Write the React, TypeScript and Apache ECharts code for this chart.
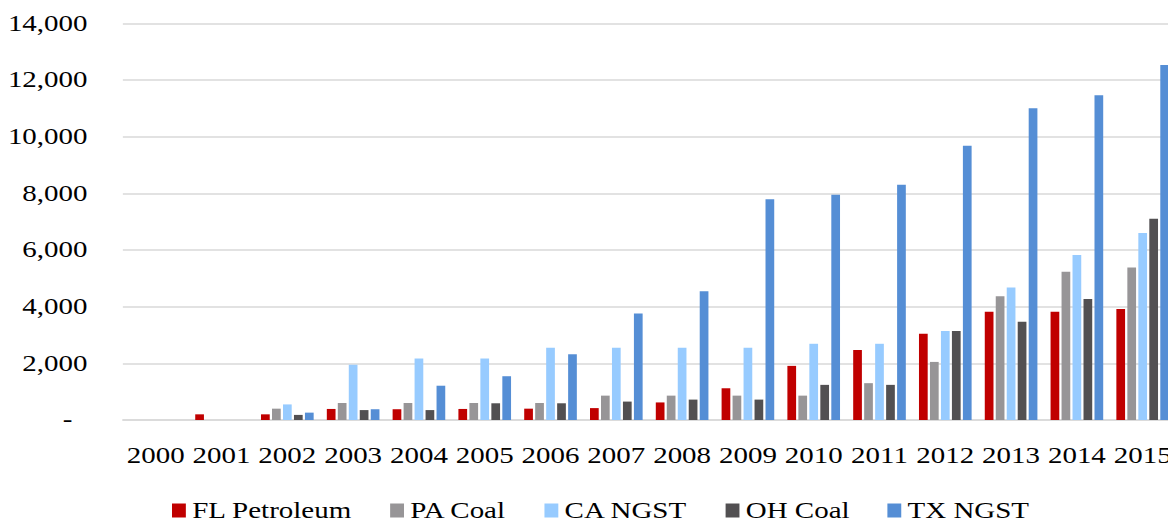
import React, { useEffect, useRef } from "react";
import * as echarts from "echarts";

const categories = [
  "2000", "2001", "2002", "2003", "2004", "2005", "2006", "2007",
  "2008", "2009", "2010", "2011", "2012", "2013", "2014", "2015",
];

const seriesNames = ["FL Petroleum", "PA Coal", "CA NGST", "OH Coal", "TX NGST"];

const flPetroleum = [0, 200, 200, 390, 380, 390, 400, 420, 620, 1120, 1910, 2470, 3040, 3820, 3820, 3920];
const paCoal = [0, 0, 400, 600, 600, 600, 600, 860, 860, 860, 860, 1300, 2050, 4370, 5230, 5380];
const caNgst = [0, 0, 550, 1950, 2170, 2170, 2550, 2550, 2550, 2550, 2690, 2690, 3140, 4680, 5820, 6600];
const ohCoal = [0, 0, 180, 350, 350, 590, 590, 650, 720, 720, 1240, 1240, 3140, 3470, 4270, 7100];
const txNgst = [0, 0, 260, 380, 1210, 1545, 2320, 3760, 4540, 7790, 7950, 8300, 9680, 11000, 11460, 12530];

const seriesValues = [flPetroleum, paCoal, caNgst, ohCoal, txNgst];
const seriesColors = ["#C00000", "#979597", "#97CBFF", "#525052", "#558ED5"];

const FONT = '"Liberation Serif", "Times New Roman", serif';

export default function App() {
  const ref = useRef<HTMLDivElement>(null);

  useEffect(() => {
    document.body.style.margin = "0";
    const chart = echarts.init(ref.current!, undefined, { renderer: "svg" });
    chart.setOption({
      animation: false,
      backgroundColor: "#ffffff",
      textStyle: { fontFamily: FONT },
      grid: { left: 97.5, right: 0, top: 23.3, bottom: 105, containLabel: false },
      legend: {
        data: seriesNames,
        left: 136.5,
        top: 499,
        padding: 0,
        itemWidth: 11,
        itemHeight: 14,
        itemGap: 30,
        icon: "rect",
        textStyle: { fontFamily: FONT, fontSize: 23, color: "#000" },
      },
      xAxis: {
        type: "category",
        data: categories,
        axisTick: { show: false },
        axisLine: { lineStyle: { color: "#D9D9D9", width: 1.5 } },
        axisLabel: {
          interval: 0,
          margin: 24,
          fontFamily: FONT,
          fontSize: 23,
          color: "#000",
        },
      },
      yAxis: {
        type: "value",
        min: 0,
        max: 14000,
        interval: 2000,
        axisLine: { show: false },
        axisTick: { show: false },
        splitLine: { lineStyle: { color: "#D9D9D9", width: 1.5 } },
        axisLabel: {
          margin: 28,
          fontFamily: FONT,
          fontSize: 23,
          color: "#000",
          formatter: (v: number) =>
            v === 0 ? "{z|-}" : v.toLocaleString("en-US"),
          rich: {
            z: { fontFamily: FONT, fontSize: 23, color: "#000", padding: [0, 12, 0, 0] },
          },
        },
      },
      series: seriesNames.map((name, i) => ({
        name,
        type: "bar",
        data: seriesValues[i],
        barCategoryGap: "20%",
        barGap: "26%",
        itemStyle: { color: seriesColors[i] },
      })),
    });
    return () => chart.dispose();
  }, []);

  return (
    <div style={{ width: 1168, height: 525, overflow: "hidden", position: "relative" }}>
      <div
        ref={ref}
        style={{ width: 933, height: 525, transform: "scaleX(1.26)", transformOrigin: "0 0" }}
      />
    </div>
  );
}
